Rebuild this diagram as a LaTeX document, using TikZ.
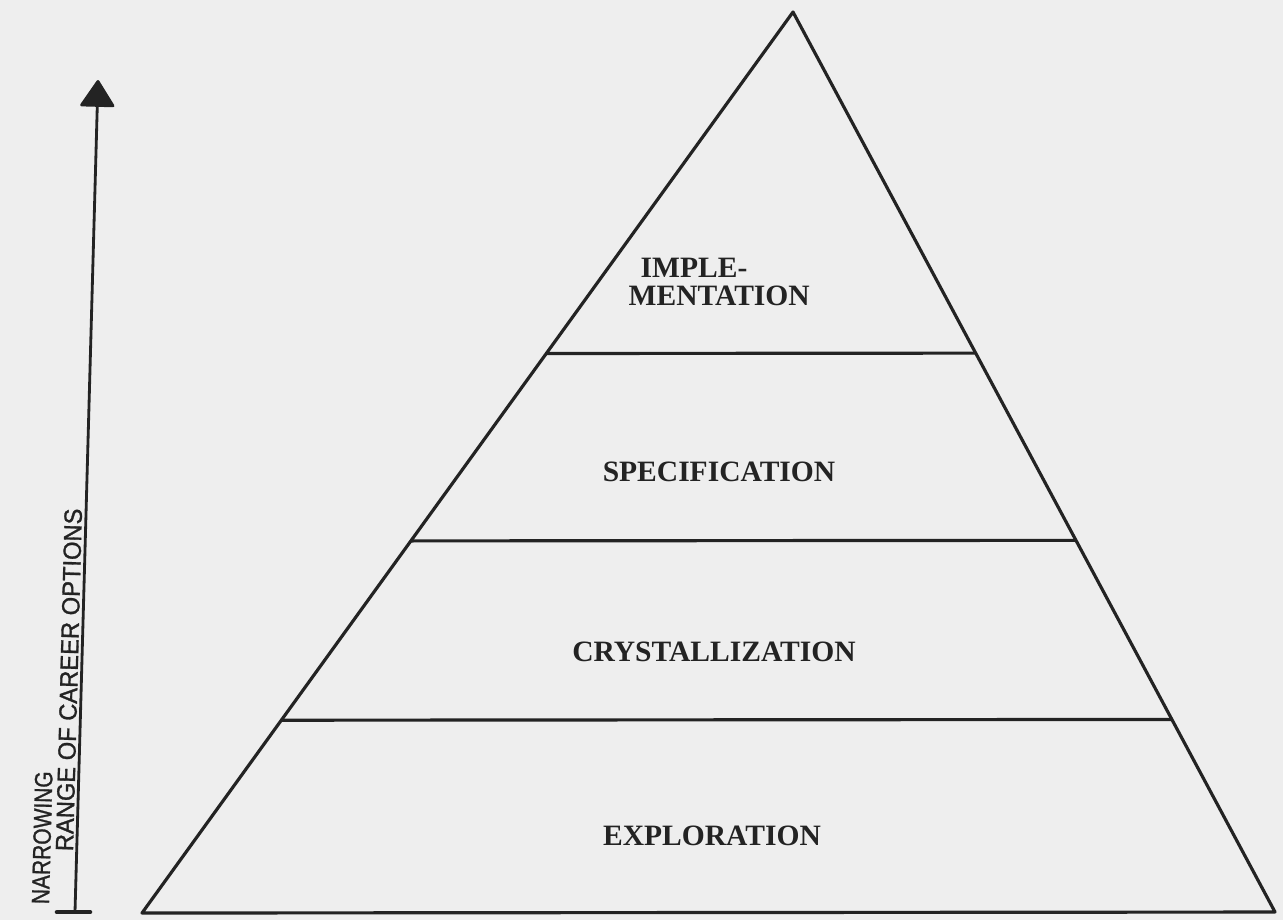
\documentclass[tikz,border=0pt]{standalone}
\usepackage{fontspec}
\setmainfont{Liberation Serif}
\newfontfamily\letterfont[FakeBold=1.2]{Liberation Sans}
\usetikzlibrary{arrows.meta,calc}
\definecolor{paper}{RGB}{238,238,238}
\definecolor{ink}{RGB}{35,35,35}
\tikzset{
  edge/.style={draw=ink,line width=0.9pt,line join=round},
  stage/.style={text=ink,font=\fontsize{8.4}{8}\selectfont\bfseries,inner sep=0pt},
  sidetext/.style={text=ink,font=\letterfont\fontsize{7.1}{8}\selectfont,inner sep=0pt,rotate=88.5}
}
\begin{document}
\begin{tikzpicture}[x=0.01cm,y=-0.01cm]
\fill[paper] (0,0) rectangle (1283,920);
\useasboundingbox (0,0) rectangle (1283,920);
% pyramid
\coordinate (apex) at (793,12);
\coordinate (bl) at (142,913);
\coordinate (br) at (1275,912);
\draw[edge] (apex) -- (bl) -- (br) -- cycle;
\foreach \t/\n in {0.379/a,0.587/b,0.786/c}{
  \coordinate (l\n) at ($(apex)!\t!(bl)$);
  \coordinate (r\n) at ($(apex)!\t!(br)$);
  \draw[edge] (l\n) -- (r\n);
}
% labels
\node[stage,anchor=base west] (impl1) at (640,277) {IMPLE-};
\node[stage,anchor=base west] (impl2) at (628,305) {MENTATION};
\node[stage] (spec) at (719,472) {SPECIFICATION};
\node[stage] (crys) at (714,652) {CRYSTALLIZATION};
\node[stage] (expl) at (712,836) {EXPLORATION};
% arrow
\coordinate (abot) at (75,912);
\coordinate (atop) at (98,80);
\draw[draw=ink,line width=0.8pt,-{Triangle[width=36*0.01cm,length=28*0.01cm,round]}] (abot) -- (atop);
\coordinate (tl) at (57,912);
\coordinate (tr) at (90,912);
\draw[draw=ink,line width=1.3pt,line cap=round] (tl) -- (tr);
\node[sidetext,anchor=base west] (range) at (73,852) {\scalebox{0.95}[1]{RANGE OF CAREER OPTIONS}};
\node[sidetext,anchor=base west] (narrow) at (49,905) {\scalebox{0.84}[1]{NARROWING}};
\end{tikzpicture}
\end{document}
